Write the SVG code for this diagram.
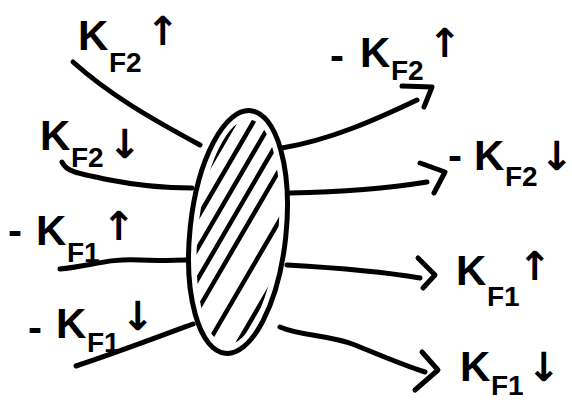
<svg xmlns="http://www.w3.org/2000/svg" width="572" height="403" viewBox="0 0 572 403">
<style>
.ln{fill:none;stroke:#000;stroke-width:5;stroke-linecap:round;stroke-linejoin:round}
.h{fill:none;stroke:#000;stroke-width:4.5;stroke-linecap:round}
.k{font-family:"Liberation Sans",Arial,sans-serif;font-weight:bold;font-size:42px;fill:#000}
.s{font-family:"Liberation Sans",Arial,sans-serif;font-weight:bold;font-size:28px;fill:#000}
.a{font-family:"DejaVu Sans",sans-serif;font-weight:bold;font-size:40px;fill:#000}
</style>
<defs>
<clipPath id="cl"><ellipse cx="238" cy="232" rx="40" ry="113" transform="rotate(6 238 232)"/></clipPath>
</defs>
<rect width="572" height="403" fill="#fff"/>
<g id="connectors">
<path class="ln" d="M73,62 C110,95 150,118 200,145"/>
<path class="ln" d="M62,162 C66,172 80,174 110,180 C140,186 165,188 192,188"/>
<path class="ln" d="M60,269 C90,266 110,258 140,260 C160,261 175,260 186,260"/>
<path class="ln" d="M76,366 C110,355 150,340 193,324"/>
<path class="ln" d="M282,148 C330,140 375,120 417,100"/>
<path class="ln" d="M402,86 L432,87 L424,107"/>
<path class="ln" d="M290,193 C340,192 390,188 427,182"/>
<path class="ln" d="M420,163 L445,172 L434,193"/>
<path class="ln" d="M287,265 C340,268 385,272 420,278"/>
<path class="ln" d="M418,258 L435,275 L423,288"/>
<path class="ln" d="M280,327 C300,336 330,335 355,345 C380,355 400,364 425,372"/>
<path class="ln" d="M422,352 L438,370 L415,390"/>
</g>
<g id="complex">
<g clip-path="url(#cl)">
<path class="h" d="M150,330 L290,90 M168,330 L308,90 M186,330 L326,90 M132,330 L272,90 M114,330 L254,90 M96,330 L236,90 M204,350 L344,110 M222,370 L362,130 M240,390 L380,150 M78,330 L218,90"/>
</g>
<ellipse cx="238" cy="232" rx="48" ry="122" transform="rotate(6 238 232)" fill="none" stroke="#000" stroke-width="5"/>
</g>
<g id="lbl-kf2-up-in"><text class="k" x="78" y="50">K</text><text class="s" x="109" y="72">F2</text><text class="a" x="146" y="45">↑</text></g>
<g id="lbl-kf2-down-in"><text class="k" x="40" y="150">K</text><text class="s" x="71" y="167">F2</text><text class="a" x="108" y="158">↓</text></g>
<g id="lbl-kf1-up-in"><text class="k" x="8" y="245">-</text><text class="k" x="36" y="245">K</text><text class="s" x="67" y="262">F1</text><text class="a" x="102" y="240">↑</text></g>
<g id="lbl-kf1-down-in"><text class="k" x="28" y="342">-</text><text class="k" x="56" y="338">K</text><text class="s" x="87" y="352">F1</text><text class="a" x="121" y="330">↓</text></g>
<g id="lbl-kf2-up-out"><text class="k" x="330" y="70">-</text><text class="k" x="360" y="67">K</text><text class="s" x="391" y="80">F2</text><text class="a" x="428" y="57">↑</text></g>
<g id="lbl-kf2-down-out"><text class="k" x="448" y="170">-</text><text class="k" x="474" y="170">K</text><text class="s" x="505" y="186">F2</text><text class="a" x="540" y="170">↓</text></g>
<g id="lbl-kf1-up-out"><text class="k" x="456" y="285">K</text><text class="s" x="487" y="306">F1</text><text class="a" x="518" y="280">↑</text></g>
<g id="lbl-kf1-down-out"><text class="k" x="460" y="381">K</text><text class="s" x="491" y="395">F1</text><text class="a" x="527" y="381">↓</text></g>
</svg>
